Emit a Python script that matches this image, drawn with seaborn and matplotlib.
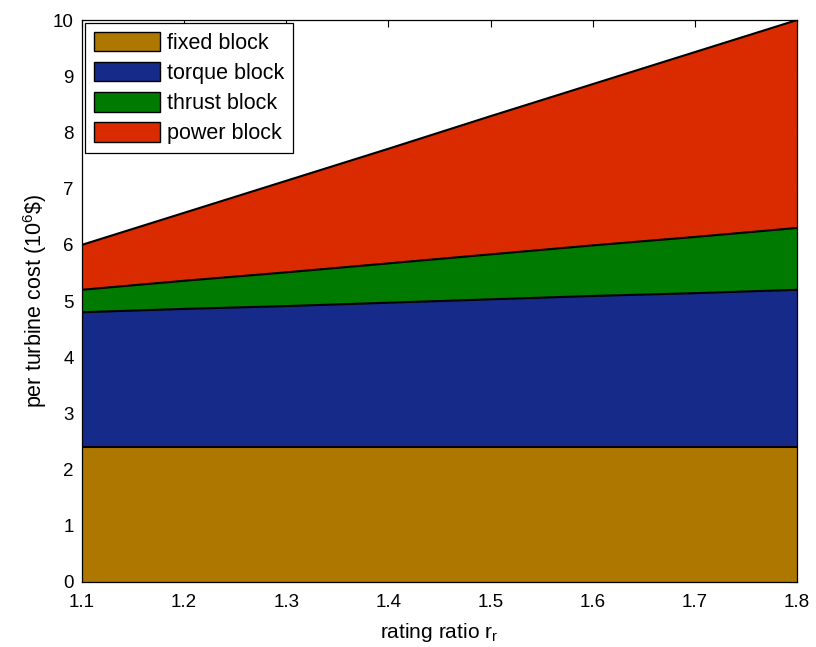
import numpy as np
import pandas as pd
import matplotlib
matplotlib.use("Agg")
import matplotlib.pyplot as plt
import seaborn as sns
from matplotlib.patches import Patch

# ---- data ----
rating_ratio = [1.1, 1.2, 1.3, 1.4, 1.5, 1.6, 1.7, 1.8]
fixed_block = [2.4, 2.4, 2.4, 2.4, 2.4, 2.4, 2.4, 2.4]
torque_block = [2.4, 2.46, 2.51, 2.57, 2.63, 2.69, 2.74, 2.8]
thrust_block = [0.4, 0.5, 0.6, 0.7, 0.8, 0.9, 1.0, 1.1]
power_block = [0.8, 1.21, 1.63, 2.04, 2.46, 2.87, 3.29, 3.7]
labels = ["fixed block", "torque block", "thrust block", "power block"]
colors = ["#AE7800", "#162A8A", "#007A00", "#D92A00"]
xticks = [1.1, 1.2, 1.3, 1.4, 1.5, 1.6, 1.7, 1.8]
yticks = list(range(0, 11))

sns.set_theme(style="white")
plt.rcParams["font.family"] = ["Liberation Sans", "DejaVu Sans"]
plt.rcParams["mathtext.fontset"] = "custom"
plt.rcParams["mathtext.rm"] = "Liberation Sans"
plt.rcParams["mathtext.it"] = "Liberation Sans"
plt.rcParams["text.color"] = "black"
plt.rcParams["axes.labelcolor"] = "black"

fig = plt.figure(figsize=(8.16, 6.47), dpi=100)
ax = fig.add_axes([0.1005, 0.1005, 0.9767 - 0.1005, 0.969 - 0.1005])

series = [fixed_block, torque_block, thrust_block, power_block]
bottom = np.zeros(len(rating_ratio))
rows = []
for lab, col, vals in zip(labels, colors, series):
    top = bottom + np.array(vals)
    ax.fill_between(rating_ratio, bottom, top, facecolor=col, edgecolor="none")
    for xv, yv in zip(rating_ratio, top):
        rows.append({"x": xv, "y": yv, "block": lab})
    bottom = top

df = pd.DataFrame(rows)
sns.lineplot(data=df, x="x", y="y", units="block", estimator=None,
             color="black", linewidth=1.5, ax=ax, legend=False)

ax.set_xlim(1.1, 1.8)
ax.set_ylim(0, 10)
ax.set_xticks(xticks)
ax.set_xticklabels([f"{v:.1f}" for v in xticks])
ax.set_yticks(yticks)
ax.tick_params(direction="in", top=True, right=True, length=5, width=0.8,
               labelsize=13.5, colors="black")
ax.tick_params(axis="x", pad=9)
ax.tick_params(axis="y", pad=6)
for s in ax.spines.values():
    s.set_color("black")
    s.set_linewidth(0.9)

ax.set_xlabel("rating ratio r$_\\mathregular{r}$", fontsize=15, labelpad=7)
ax.set_ylabel("per turbine cost (10$^\\mathregular{6}$\\$)", fontsize=15.5, labelpad=3)

handles = [Patch(facecolor=c, edgecolor="black", linewidth=1.0) for c in colors]
leg = ax.legend(handles, labels, loc="upper left", fontsize=15.5, frameon=True,
                fancybox=False, framealpha=1, edgecolor="black",
                handlelength=3.05, handleheight=1.0, borderaxespad=0.15,
                labelspacing=0.38, handletextpad=0.35, borderpad=0.4)
leg.get_frame().set_linewidth(0.9)

fig.savefig("out.png", dpi=100)
